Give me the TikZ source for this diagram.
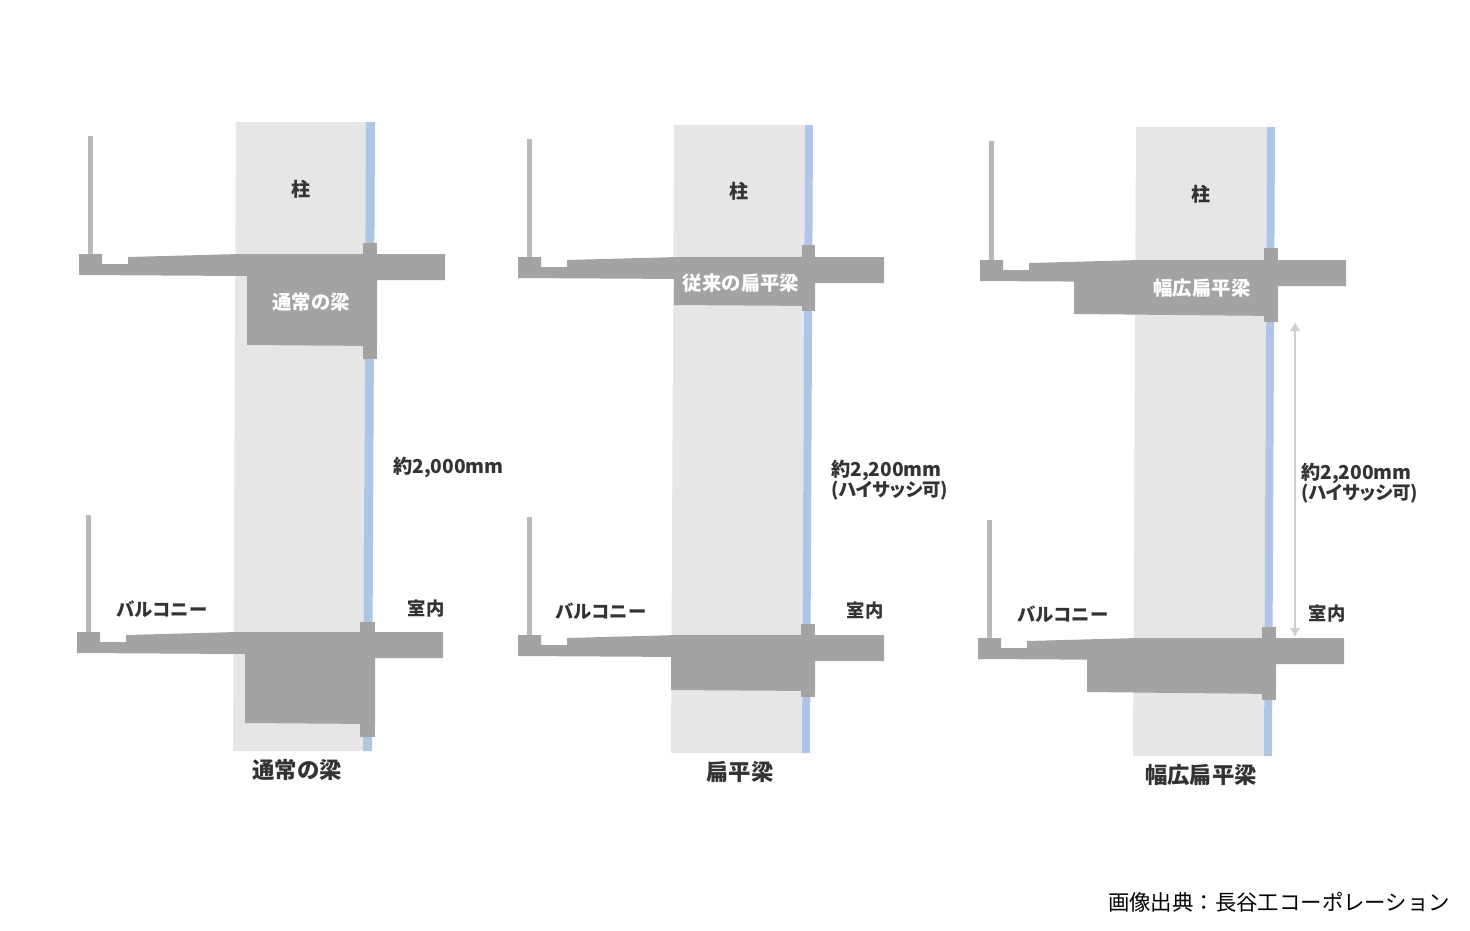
\documentclass[tikz,border=0pt]{standalone}
\usepackage{fontspec}
\setmainfont{Noto Sans CJK JP}
\usepackage{tikz}
\usetikzlibrary{arrows.meta}
\definecolor{columngray}{HTML}{E6E6E6}
\definecolor{glassblue}{HTML}{AEC5E6}
\definecolor{slabgray}{HTML}{A3A3A3}
\definecolor{railgray}{HTML}{B9B9B9}
\definecolor{arrowgray}{HTML}{CFCFCF}
\definecolor{labelgray}{HTML}{333333}
\tikzset{
    column/.style={fill=columngray},
    glass/.style={fill=glassblue},
    concrete/.style={fill=slabgray},
    rail/.style={fill=railgray},
    smalllabel/.style={font=\bfseries\fontsize{18.3}{18}\selectfont,text=labelgray,inner sep=0pt},
    columnlabel/.style={font=\bfseries\fontsize{19}{19}\selectfont,text=labelgray,inner sep=0pt},
    beamlabel/.style={font=\bfseries\fontsize{19.4}{19}\selectfont,text=white,inner sep=0pt},
    titlelabel/.style={font=\bfseries\fontsize{22.4}{22}\selectfont,text=labelgray,inner sep=0pt},
    heightlabel/.style={font=\bfseries\fontsize{19.2}{20}\selectfont,text=labelgray,inner sep=0pt,align=left,anchor=west},
}
\newcommand{\hisash}{{\addfontfeature{RawFeature=+palt}\fontsize{18.4}{20}\selectfont (ハイサッシ可)}}
% floor slab with its railing: left end x, top y, railing top y
\newcommand{\floorslab}[3]{
    \fill[rail] (#1+9,#3) rectangle (#1+14,#2+1);
    \fill[concrete] (#1,#2) -- ++(23,0) -- ++(0,10) -- ++(26,0) -- ++(0,-7)
        -- (#1+160,#2) -- (#1+366,#2) -- (#1+366,#2+26) -- (#1+297,#2+26) -- (#1+168,#2+22) -- (#1,#2+21) -- cycle;
}
\begin{document}
\begin{tikzpicture}[x=1pt,y=-1pt]
    \useasboundingbox (0,0) rectangle (1470,930);
    % left: normal beam
    \fill[column] (236,122) -- (366,122) -- (363,751) -- (233,751) -- cycle;
    \fill[glass] (366,122) -- (375,122) -- (372,751) -- (363,751) -- cycle;
    \floorslab{79}{254}{136}
    \fill[concrete] (247,270) -- (377,270) -- (377,346) -- (247,345) -- cycle;
    \fill[concrete] (363,243) rectangle (377,359);
    \floorslab{77}{632}{515}
    \fill[concrete] (245,648) -- (375,648) -- (375,724) -- (245,723) -- cycle;
    \fill[concrete] (360,622) rectangle (375,737);
    \node[columnlabel] (col1) at (301,189) {柱};
    \node[beamlabel] (beam1) at (311,302) {通常の梁};
    \node[smalllabel] (balc1) at (162,609) {バルコニー};
    \node[smalllabel] (room1) at (426,609) {室内};
    \node[heightlabel] (height1) at (393,467) {約2,000mm};
    \node[titlelabel] (title1) at (297,770) {通常の梁};
    % middle: flat beam
    \fill[column] (674,125) -- (805,125) -- (802,753) -- (671,753) -- cycle;
    \fill[glass] (805,125) -- (813,125) -- (810,753) -- (802,753) -- cycle;
    \floorslab{518}{257}{139}
    \fill[concrete] (674,272) -- (815,272) -- (815,306) -- (674,305) -- cycle;
    \fill[concrete] (802,245) rectangle (815,311);
    \floorslab{518}{635}{517}
    \fill[concrete] (671,650) -- (815,650) -- (815,691) -- (671,690) -- cycle;
    \fill[concrete] (801,624) rectangle (815,697);
    \node[columnlabel] (col2) at (739,191) {柱};
    \node[beamlabel] (beam2) at (741,283) {従来の扁平梁};
    \node[smalllabel] (balc2) at (601,611) {バルコニー};
    \node[smalllabel] (room2) at (865,611) {室内};
    \node[heightlabel] (height2) at (831,480) {約2,200mm\\\hisash};
    \node[titlelabel] (title2) at (740,772) {扁平梁};
    % right: wide flat beam
    \fill[column] (1136,127) -- (1267,127) -- (1264,756) -- (1133,756) -- cycle;
    \fill[glass] (1267,127) -- (1275,127) -- (1272,756) -- (1264,756) -- cycle;
    \floorslab{980}{260}{141}
    \fill[concrete] (1074,276) -- (1278,276) -- (1278,316) -- (1074,314) -- cycle;
    \fill[concrete] (1264,248) rectangle (1278,322);
    \floorslab{978}{638}{520}
    \fill[concrete] (1087,652) -- (1276,652) -- (1276,694) -- (1087,692) -- cycle;
    \fill[concrete] (1262,627) rectangle (1276,700);
    \node[columnlabel] (col3) at (1201,194) {柱};
    \node[beamlabel] (beam3) at (1202,288) {幅広扁平梁};
    \node[smalllabel] (balc3) at (1063,614) {バルコニー};
    \node[smalllabel] (room3) at (1327,614) {室内};
    \node[heightlabel] (height3) at (1301,483) {約2,200mm\\\hisash};
    \node[titlelabel] (title3) at (1201,775) {幅広扁平梁};
    \coordinate (archtop) at (1295,322);
    \coordinate (archbot) at (1295,637);
    \draw[arrowgray,line width=2pt,{Latex[length=9pt,width=11pt]}-{Latex[length=9pt,width=11pt]}] (archtop) -- (archbot);
    % credit
    \node[inner sep=0pt,text=black,font=\fontsize{21.4}{22}\selectfont] (credit) at (1279,902) {画像出典：長谷工コーポレーション};
\end{tikzpicture}
\end{document}
